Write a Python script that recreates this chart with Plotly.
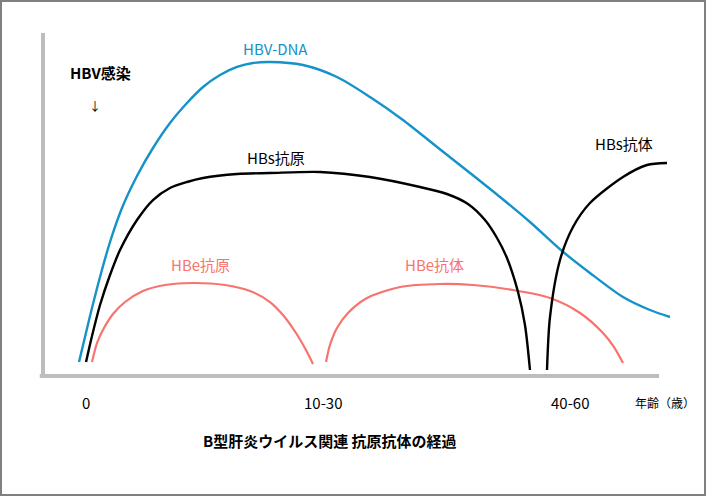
import plotly.graph_objects as go

# Conceptual time axis (0-100) and level axis (0-100)
dna_x = [5.54, 7.23, 8.77, 10.31, 12.15, 14.46, 16.92, 19.54, 22.15, 24.62, 27.23, 29.85, 32.31, 34.92,
         40.0, 45.23, 50.31, 55.38, 60.62, 65.69, 70.31, 74.92, 79.85, 84.15, 89.23, 93.38, 96.46]
dna_y = [4.08, 17.49, 28.86, 39.07, 48.98, 58.31, 66.47, 73.76, 79.59, 84.26, 87.76, 90.09, 91.25, 91.55,
         90.67, 87.17, 81.34, 74.64, 66.76, 59.18, 52.19, 44.90, 36.44, 30.03, 23.03, 19.24, 17.20]

hbsag_x = [6.62, 7.54, 8.77, 10.31, 11.85, 14.46, 16.92, 19.54, 22.15, 24.62, 29.85, 34.92, 42.62, 50.31,
           58.0, 62.15, 65.38, 68.0, 69.85, 71.38, 73.08, 74.15, 74.92]
hbsag_y = [4.08, 11.66, 20.70, 29.45, 36.73, 45.48, 51.31, 54.81, 56.56, 57.73, 58.89, 59.18, 59.48, 58.02,
           55.10, 53.06, 50.15, 45.48, 40.23, 34.40, 24.49, 14.87, 1.75]

hbsab_x = [77.54, 78.0, 79.54, 81.54, 84.15, 89.23, 92.92, 96.0]
hbsab_y = [1.75, 17.20, 33.82, 43.44, 50.44, 58.02, 61.52, 62.10]

hbeag_x = [7.54, 8.31, 9.38, 10.77, 12.62, 15.38, 18.77, 23.08, 28.0, 31.85, 34.92, 36.92, 38.92, 40.46, 41.54]
hbeag_y = [4.08, 9.62, 13.99, 18.08, 21.57, 24.78, 26.53, 27.11, 26.53, 24.78, 21.57, 17.78, 12.54, 7.58, 3.50]

hbeab_x = [43.54, 44.15, 45.23, 46.92, 49.85, 54.92, 61.08, 66.15, 72.31, 78.0, 82.62, 86.15, 87.85, 89.23]
hbeab_y = [4.08, 9.04, 14.00, 18.37, 22.74, 25.95, 26.82, 26.53, 25.07, 22.74, 18.37, 12.54, 8.45, 3.79]

tick_pos = [6.6, 43.1, 81.1]
tick_text = ["0", "10-30", "40-60"]
unit_label = "年齢（歳）"
title_text = "B型肝炎ウイルス関連 抗原抗体の経過"

BLUE = "#1592c9"
BLACK = "#000000"
SALMON = "#f8736d"
FONT = "Noto Sans CJK JP"

fig = go.Figure()

def add_line(x, y, color, width):
    fig.add_trace(go.Scatter(x=x, y=y, mode="lines",
                             line=dict(color=color, width=width, shape="spline", smoothing=0.8),
                             hoverinfo="skip", showlegend=False, cliponaxis=False))

add_line(hbeag_x, hbeag_y, SALMON, 2.2)
add_line(hbeab_x, hbeab_y, SALMON, 2.2)
add_line(dna_x, dna_y, BLUE, 2.4)
add_line(hbsag_x, hbsag_y, BLACK, 2.4)
add_line(hbsab_x, hbsab_y, BLACK, 2.4)

annotations = []
def label(x, y, text, color=BLACK, size=15, bold=False, xref="x", yref="y"):
    t = f"<b>{text}</b>" if bold else text
    annotations.append(dict(x=x, y=y, xref=xref, yref=yref, text=t, showarrow=False,
                            font=dict(family=FONT, size=size, color=color),
                            xanchor="center", yanchor="middle"))

label(35.8, 95.6, "HBV-DNA", BLUE, 15)
label(8.8, 88.6, "HBV感染", BLACK, 15, bold=True)
label(8.0, 79.0, "↓", BLACK, 12)
label(35.8, 63.8, "HBs抗原", BLACK, 15)
label(24.3, 32.4, "HBe抗原", SALMON, 15)
label(60.3, 32.4, "HBe抗体", SALMON, 15)
label(89.4, 67.9, "HBs抗体", BLACK, 15)
for p, t in zip(tick_pos, tick_text):
    label(p, -0.076, t, BLACK, 15, yref="paper")
label(95.7, -0.076, unit_label, BLACK, 12, yref="paper")
label(44.2, -0.187, title_text, BLACK, 15, bold=True, yref="paper")

AX = "#bdbdbd"
shapes = [
    # outer frame
    dict(type="rect", xref="paper", yref="paper",
         x0=(1 - 43) / 650, x1=(705 - 43) / 650,
         y0=(376 - 495) / 343, y1=(376 - 1) / 343,
         line=dict(color="#808080", width=2), fillcolor="rgba(0,0,0,0)"),
    # vertical axis
    dict(type="line", xref="paper", yref="paper", x0=0, x1=0,
         y0=-0.006, y1=1.0, line=dict(color=AX, width=4)),
    # horizontal axis
    dict(type="line", xref="paper", yref="paper", x0=-0.005, x1=(659 - 43) / 650,
         y0=0, y1=0, line=dict(color=AX, width=4)),
]

fig.update_layout(
    width=707, height=496,
    margin=dict(l=43, r=14, t=33, b=120),
    paper_bgcolor="white", plot_bgcolor="white",
    xaxis=dict(range=[0, 100], visible=False, fixedrange=True),
    yaxis=dict(range=[0, 100], visible=False, fixedrange=True),
    annotations=annotations, shapes=shapes,
    font=dict(family=FONT),
)

fig.write_html("out.html")
